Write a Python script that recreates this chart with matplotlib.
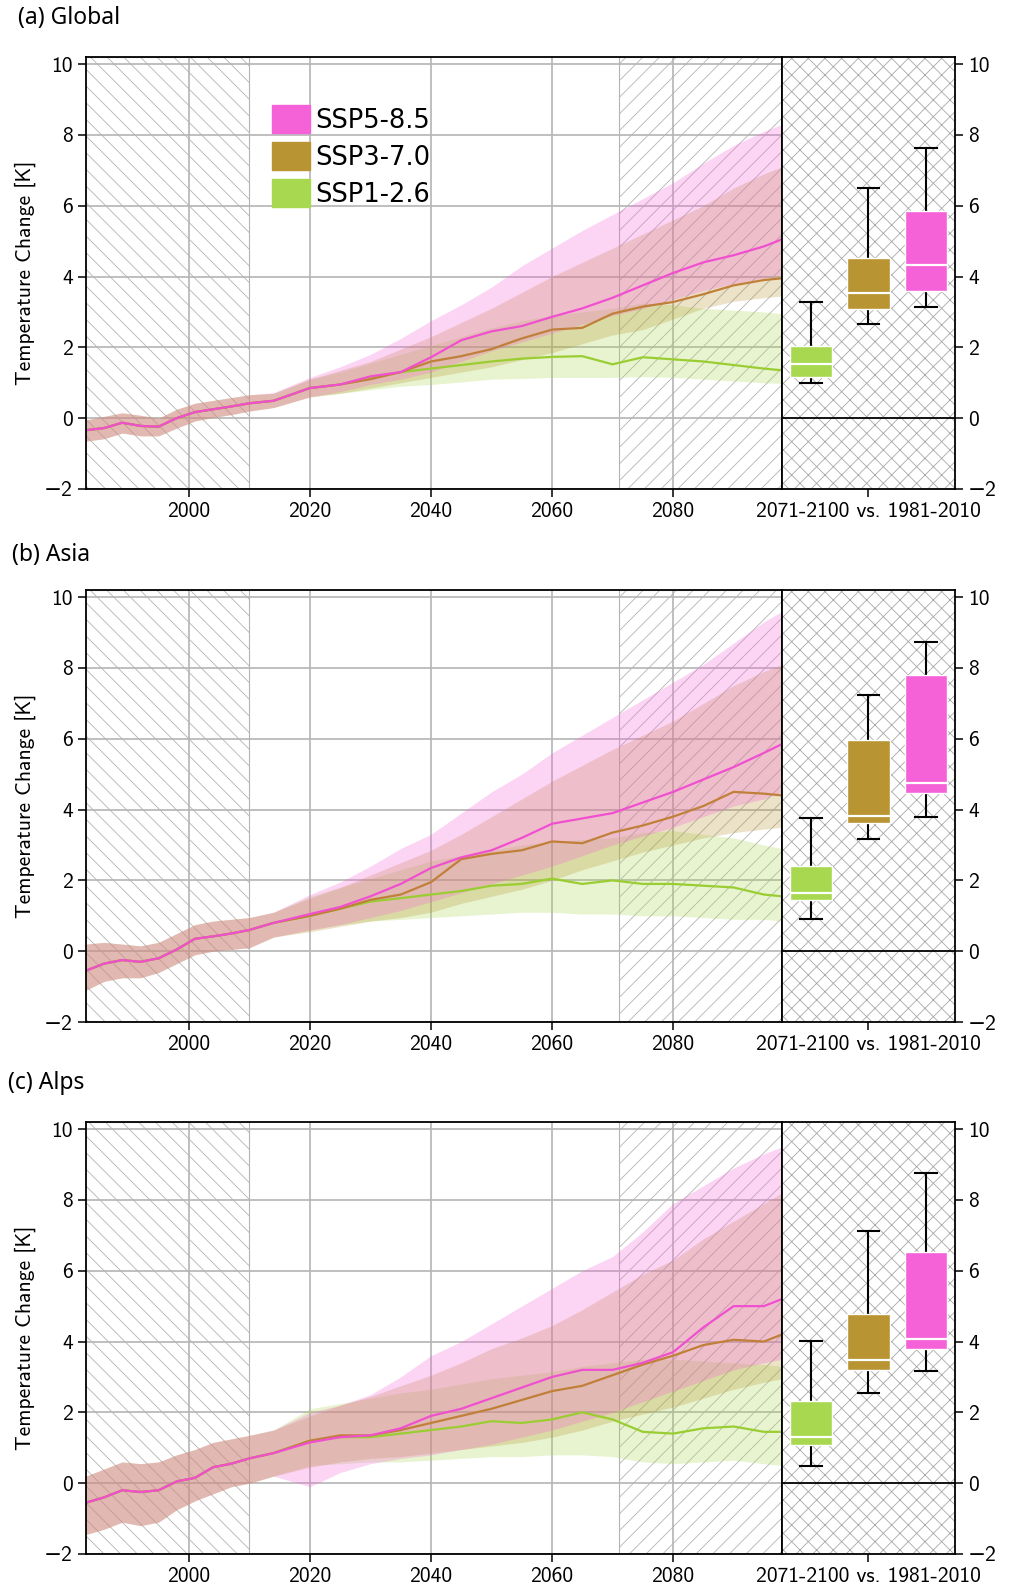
import numpy as np
import matplotlib
matplotlib.use("Agg")
import matplotlib.pyplot as plt
from matplotlib.patches import Patch, Rectangle

plt.rcParams['font.family'] = ['cmss10', 'DejaVu Sans']
plt.rcParams['axes.unicode_minus'] = True
plt.rcParams['hatch.linewidth'] = 0.6

# ---- data -------------------------------------------------------------
scenarios = ['SSP1-2.6', 'SSP3-7.0', 'SSP5-8.5']
panels = ['(a) Global', '(b) Asia', '(c) Alps']

years_hist = [1983, 1986, 1989, 1992, 1995, 1998, 2001, 2004, 2007, 2010, 2014]
years_scen = [2014, 2020, 2025, 2030, 2035, 2040, 2045, 2050, 2055, 2060,
              2065, 2070, 2075, 2080, 2085, 2090, 2095, 2098]

# historical ensemble (mean, low, high) per panel
glob_hist_mean = [-0.34, -0.28, -0.13, -0.22, -0.24, 0.0, 0.17, 0.25, 0.33, 0.42, 0.49]
glob_hist_lo = [-0.65, -0.58, -0.42, -0.5, -0.5, -0.28, -0.08, 0.02, 0.1, 0.2, 0.3]
glob_hist_hi = [-0.05, 0.05, 0.15, 0.08, 0.0, 0.25, 0.42, 0.5, 0.58, 0.66, 0.72]

asia_hist_mean = [-0.55, -0.35, -0.25, -0.3, -0.2, 0.05, 0.35, 0.42, 0.5, 0.6, 0.8]
asia_hist_lo = [-1.1, -0.85, -0.75, -0.75, -0.6, -0.35, -0.1, 0.0, 0.05, 0.1, 0.35]
asia_hist_hi = [0.2, 0.25, 0.2, 0.15, 0.25, 0.5, 0.75, 0.85, 0.9, 0.95, 1.1]

alps_hist_mean = [-0.55, -0.4, -0.2, -0.25, -0.2, 0.05, 0.15, 0.45, 0.55, 0.7, 0.85]
alps_hist_lo = [-1.45, -1.3, -1.1, -1.2, -1.1, -0.75, -0.5, -0.3, -0.1, 0.0, 0.2]
alps_hist_hi = [0.2, 0.4, 0.6, 0.55, 0.6, 0.8, 0.95, 1.15, 1.25, 1.35, 1.5]

# scenario projections, Global
glob_ssp126_mean = [0.49, 0.85, 0.95, 1.15, 1.3, 1.4, 1.5, 1.6, 1.68, 1.73, 1.75, 1.52, 1.72, 1.66, 1.6, 1.5, 1.4, 1.35]
glob_ssp126_lo = [0.3, 0.6, 0.7, 0.8, 0.9, 0.95, 1.02, 1.1, 1.12, 1.15, 1.15, 1.15, 1.17, 1.15, 1.1, 1.05, 1.0, 0.98]
glob_ssp126_hi = [0.7, 1.1, 1.3, 1.55, 1.8, 2.05, 2.3, 2.55, 2.75, 2.9, 3.0, 3.1, 3.25, 3.2, 3.1, 3.05, 3.0, 2.95]
glob_ssp370_mean = [0.49, 0.85, 0.95, 1.1, 1.3, 1.6, 1.75, 1.95, 2.25, 2.5, 2.55, 2.95, 3.15, 3.28, 3.5, 3.75, 3.9, 3.95]
glob_ssp370_lo = [0.3, 0.6, 0.7, 0.85, 1.0, 1.15, 1.3, 1.45, 1.65, 1.85, 2.1, 2.35, 2.5, 2.8, 3.1, 3.3, 3.4, 3.45]
glob_ssp370_hi = [0.7, 1.1, 1.35, 1.6, 1.95, 2.3, 2.7, 3.1, 3.55, 4.0, 4.4, 4.8, 5.2, 5.6, 6.0, 6.5, 6.9, 7.1]
glob_ssp585_mean = [0.49, 0.85, 0.95, 1.18, 1.3, 1.72, 2.2, 2.45, 2.6, 2.86, 3.1, 3.4, 3.75, 4.1, 4.4, 4.6, 4.85, 5.05]
glob_ssp585_lo = [0.3, 0.6, 0.75, 0.95, 1.1, 1.3, 1.6, 1.9, 2.15, 2.4, 2.65, 2.9, 3.1, 3.35, 3.6, 3.8, 3.95, 4.05]
glob_ssp585_hi = [0.72, 1.15, 1.45, 1.8, 2.25, 2.75, 3.2, 3.7, 4.3, 4.8, 5.3, 5.75, 6.2, 6.65, 7.2, 7.7, 8.1, 8.3]

# scenario projections, Asia
asia_ssp126_mean = [0.8, 1.0, 1.2, 1.4, 1.5, 1.6, 1.7, 1.85, 1.9, 2.05, 1.9, 2.0, 1.9, 1.9, 1.85, 1.8, 1.6, 1.55]
asia_ssp126_lo = [0.4, 0.6, 0.75, 0.85, 0.9, 0.95, 1.0, 1.05, 1.1, 1.1, 1.05, 1.05, 1.0, 1.0, 0.95, 0.9, 0.9, 0.85]
asia_ssp126_hi = [1.1, 1.55, 1.8, 2.05, 2.3, 2.55, 2.7, 2.85, 3.0, 3.1, 3.15, 3.2, 3.35, 3.4, 3.3, 3.2, 3.0, 2.9]
asia_ssp370_mean = [0.8, 1.0, 1.2, 1.45, 1.6, 1.95, 2.6, 2.75, 2.85, 3.1, 3.05, 3.35, 3.55, 3.8, 4.1, 4.5, 4.45, 4.4]
asia_ssp370_lo = [0.4, 0.55, 0.7, 0.85, 0.95, 1.1, 1.35, 1.55, 1.75, 2.0, 2.3, 2.55, 2.8, 3.0, 3.2, 3.35, 3.45, 3.5]
asia_ssp370_hi = [1.1, 1.5, 1.8, 2.15, 2.5, 2.85, 3.3, 3.8, 4.3, 4.8, 5.25, 5.7, 6.1, 6.5, 7.0, 7.5, 7.9, 8.1]
asia_ssp585_mean = [0.8, 1.05, 1.25, 1.55, 1.9, 2.35, 2.65, 2.85, 3.2, 3.6, 3.75, 3.9, 4.2, 4.5, 4.85, 5.2, 5.6, 5.85]
asia_ssp585_lo = [0.4, 0.6, 0.75, 0.95, 1.15, 1.4, 1.65, 1.9, 2.15, 2.4, 2.7, 3.0, 3.25, 3.5, 3.8, 4.1, 4.3, 4.5]
asia_ssp585_hi = [1.1, 1.6, 1.95, 2.4, 2.9, 3.3, 3.9, 4.5, 5.0, 5.6, 6.1, 6.6, 7.1, 7.6, 8.1, 8.7, 9.3, 9.6]

# scenario projections, Alps
alps_ssp126_mean = [0.85, 1.2, 1.3, 1.3, 1.4, 1.5, 1.6, 1.75, 1.7, 1.8, 2.0, 1.8, 1.45, 1.4, 1.55, 1.6, 1.45, 1.45]
alps_ssp126_lo = [0.2, 0.5, 0.55, 0.6, 0.6, 0.65, 0.7, 0.75, 0.75, 0.8, 0.8, 0.75, 0.6, 0.55, 0.6, 0.65, 0.55, 0.5]
alps_ssp126_hi = [1.5, 2.1, 2.25, 2.4, 2.55, 2.65, 2.8, 2.95, 3.05, 3.15, 3.3, 3.4, 3.5, 3.5, 3.45, 3.4, 3.35, 3.3]
alps_ssp370_mean = [0.85, 1.2, 1.35, 1.35, 1.5, 1.7, 1.9, 2.1, 2.35, 2.6, 2.75, 3.05, 3.35, 3.6, 3.9, 4.05, 4.0, 4.2]
alps_ssp370_lo = [0.2, 0.45, 0.6, 0.7, 0.75, 0.85, 0.95, 1.05, 1.15, 1.3, 1.5, 1.75, 1.95, 2.15, 2.4, 2.65, 2.85, 2.95]
alps_ssp370_hi = [1.5, 1.9, 2.2, 2.45, 2.75, 3.05, 3.4, 3.8, 4.1, 4.45, 4.9, 5.4, 5.9, 6.3, 6.9, 7.4, 7.9, 8.2]
alps_ssp585_mean = [0.85, 1.15, 1.3, 1.35, 1.55, 1.9, 2.1, 2.4, 2.7, 3.0, 3.2, 3.2, 3.4, 3.7, 4.4, 5.0, 5.0, 5.2]
alps_ssp585_lo = [0.2, -0.1, 0.3, 0.55, 0.7, 0.8, 0.95, 1.1, 1.3, 1.5, 1.75, 2.0, 2.3, 2.6, 2.9, 3.2, 3.4, 3.5]
alps_ssp585_hi = [1.5, 2.0, 2.2, 2.5, 3.0, 3.6, 4.0, 4.5, 5.0, 5.5, 6.0, 6.4, 7.1, 7.9, 8.4, 8.9, 9.3, 9.5]

# boxplots 2071-2100 vs 1981-2010: (whislo, q1, med, q3, whishi) for SSP1, SSP3, SSP5
glob_box = [(0.99, 1.16, 1.53, 2.05, 3.27), (2.66, 3.09, 3.53, 4.53, 6.5), (3.15, 3.6, 4.33, 5.86, 7.63)]
asia_box = [(0.92, 1.44, 1.63, 2.41, 3.75), (3.18, 3.63, 3.82, 5.97, 7.25), (3.80, 4.46, 4.76, 7.81, 8.73)]
alps_box = [(0.49, 1.08, 1.30, 2.31, 4.01), (2.55, 3.19, 3.49, 4.78, 7.12), (3.17, 3.79, 4.08, 6.54, 8.77)]

hist_data = [(glob_hist_mean, glob_hist_lo, glob_hist_hi),
             (asia_hist_mean, asia_hist_lo, asia_hist_hi),
             (alps_hist_mean, alps_hist_lo, alps_hist_hi)]
scen_data = [
    [(glob_ssp126_mean, glob_ssp126_lo, glob_ssp126_hi),
     (glob_ssp370_mean, glob_ssp370_lo, glob_ssp370_hi),
     (glob_ssp585_mean, glob_ssp585_lo, glob_ssp585_hi)],
    [(asia_ssp126_mean, asia_ssp126_lo, asia_ssp126_hi),
     (asia_ssp370_mean, asia_ssp370_lo, asia_ssp370_hi),
     (asia_ssp585_mean, asia_ssp585_lo, asia_ssp585_hi)],
    [(alps_ssp126_mean, alps_ssp126_lo, alps_ssp126_hi),
     (alps_ssp370_mean, alps_ssp370_lo, alps_ssp370_hi),
     (alps_ssp585_mean, alps_ssp585_lo, alps_ssp585_hi)],
]
box_data = [glob_box, asia_box, alps_box]

# ---- style ------------------------------------------------------------
box_colors = ['#a8d84f', '#b99433', '#f562d8']
line_colors = ['#9acd32', '#c0803a', '#f050d0']
fill_colors = ['#a8d84f', '#b99433', '#f562d8']
hatch_gray = '#b4b4b4'
fs = 15.5

fig = plt.figure(figsize=(10.1, 15.87), dpi=100)

bottoms = [0.6919, 0.3560, 0.0208]
height = 0.2722
title_pos = [(18, 18), (12, 555), (8, 1083)]

yrs = np.array(years_hist[:-1] + years_scen)

for p in range(3):
    ax = fig.add_axes([0.0851, bottoms[p], 0.6892, height])
    axb = fig.add_axes([0.7743, bottoms[p], 0.1712, height])

    # hatched reference periods
    ax.axvspan(1981, 2010, facecolor='none', edgecolor=hatch_gray, hatch='\\\\',
               lw=0.8, zorder=0.6)
    ax.axvspan(2071, 2100, facecolor='none', edgecolor=hatch_gray, hatch='//',
               lw=0.8, zorder=0.6)

    hm, hl, hh = hist_data[p]
    for s in range(3):
        m, lo, hi = scen_data[p][s]
        low = np.array(hl[:-1] + lo)
        high = np.array(hh[:-1] + hi)
        ax.fill_between(yrs, low, high, color=fill_colors[s], alpha=0.27,
                        lw=0, zorder=1)
    for s in range(3):
        m, lo, hi = scen_data[p][s]
        mean = np.array(hm[:-1] + m)
        ax.plot(yrs, mean, color=line_colors[s], lw=1.6, zorder=2)

    ax.set_xlim(1983, 2098)
    ax.set_ylim(-2, 10.2)
    ax.set_xticks([2000, 2020, 2040, 2060, 2080])
    ax.set_yticks([-2, 0, 2, 4, 6, 8, 10])
    ax.grid(True, color='#b4b4b4', lw=1.2)
    ax.set_axisbelow(True)
    ax.tick_params(labelsize=fs, length=6, width=1.1)
    ax.set_ylabel('Temperature Change [K]', fontsize=fs)
    ax.yaxis.set_label_coords(-0.072, 0.5)
    for sp in ax.spines.values():
        sp.set_linewidth(1.3)

    # boxplot panel
    axb.add_patch(Rectangle((0, 0), 1, 1, transform=axb.transAxes,
                            facecolor='none', edgecolor='#a8a8a8', hatch='xx',
                            lw=0, zorder=0.5))
    axb.axhline(0, color='k', lw=1.3, zorder=1)
    stats = []
    for s in range(3):
        wl, q1, med, q3, wh = box_data[p][s]
        stats.append(dict(whislo=wl, q1=q1, med=med, q3=q3, whishi=wh, fliers=[]))
    bp = axb.bxp(stats, positions=[1, 2, 3], widths=0.74, patch_artist=True,
                 showfliers=False,
                 boxprops=dict(edgecolor='white', lw=1.0),
                 medianprops=dict(color='white', lw=1.6),
                 whiskerprops=dict(color='k', lw=1.5),
                 capprops=dict(color='k', lw=1.5))
    for patch, c in zip(bp['boxes'], box_colors):
        patch.set_facecolor(c)
        patch.set_zorder(3)
    for med_line in bp['medians']:
        med_line.set_zorder(4)
    axb.set_xlim(0.5, 3.5)
    axb.set_ylim(-2, 10.2)
    axb.set_xticks([2])
    axb.set_xticklabels(['2071-2100 vs. 1981-2010'])
    axb.set_yticks([-2, 0, 2, 4, 6, 8, 10])
    axb.yaxis.tick_right()
    axb.tick_params(labelsize=fs, length=6, width=1.1)
    for sp in axb.spines.values():
        sp.set_linewidth(1.3)

    fig.text(title_pos[p][0] / 1010, 1 - title_pos[p][1] / 1587, panels[p],
             fontsize=16.5, family=['Noto Sans', 'DejaVu Sans'], va='center', ha='left')

    if p == 0:
        handles = [Patch(color=box_colors[2]), Patch(color=box_colors[1]),
                   Patch(color=box_colors[0])]
        labels = ['SSP5-8.5', 'SSP3-7.0', 'SSP1-2.6']
        ax.legend(handles, labels, loc='upper left', bbox_to_anchor=(0.267, 0.888),
                  frameon=False, borderpad=0, borderaxespad=0,
                  prop=dict(family='DejaVu Sans', size=18.5),
                  handlelength=1.5, handleheight=1.3, handletextpad=0.2,
                  labelspacing=0.32)

fig.savefig('out.png', dpi=100)
